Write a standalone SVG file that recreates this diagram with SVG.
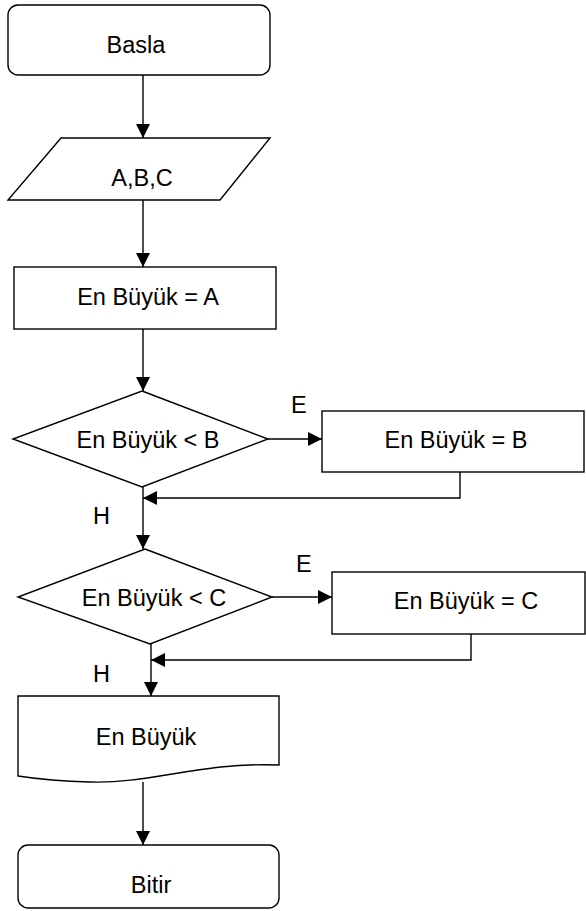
<svg xmlns="http://www.w3.org/2000/svg" width="586" height="911" viewBox="0 0 586 911">
<style>
.s{fill:#fff;stroke:#000;stroke-width:1.4}
.c{fill:none;stroke:#000;stroke-width:1.4}
text{font-family:"Liberation Sans",Arial,sans-serif;font-size:23.5px;fill:#000}
.m{text-anchor:middle}
</style>
<defs>
<marker id="a" markerUnits="userSpaceOnUse" markerWidth="15" markerHeight="15" refX="14" refY="7" orient="auto">
<path d="M0,0 L14,7 L0,14 z" fill="#000"/>
</marker>
</defs>
<rect width="586" height="911" fill="#fff"/>
<g id="connectors">
<path class="c" d="M143,75 V138" marker-end="url(#a)"/>
<path class="c" d="M143,200 V267" marker-end="url(#a)"/>
<path class="c" d="M143,329 V391" marker-end="url(#a)"/>
<path class="c" d="M268,439 H322" marker-end="url(#a)"/>
<path class="c" d="M460,472 V498 H143" marker-end="url(#a)"/>
<path class="c" d="M143,487 V549" marker-end="url(#a)"/>
<path class="c" d="M272,597 H332" marker-end="url(#a)"/>
<path class="c" d="M471,634 V660 H151" marker-end="url(#a)"/>
<path class="c" d="M151,644 V696" marker-end="url(#a)"/>
<path class="c" d="M143,782 V845" marker-end="url(#a)"/>
<text x="291" y="413">E</text>
<text x="93" y="524">H</text>
<text x="296" y="572">E</text>
<text x="93" y="682">H</text>
</g>
<g id="basla">
<rect class="s" x="8" y="5" width="262" height="70" rx="10"/>
<text class="m" x="136" y="53">Basla</text>
</g>
<g id="input">
<path class="s" d="M61,138 H270 L220,200 H8 Z"/>
<text class="m" x="142" y="186">A,B,C</text>
</g>
<g id="assignA">
<rect class="s" x="14" y="267" width="262" height="62"/>
<text class="m" x="148" y="305">En Büyük = A</text>
</g>
<g id="decisionB">
<path class="s" d="M142,391 L268,439 L142,487 L13,439 Z"/>
<text class="m" x="148" y="448">En Büyük &lt; B</text>
</g>
<g id="assignB">
<rect class="s" x="322" y="411" width="262" height="61"/>
<text class="m" x="456" y="448">En Büyük = B</text>
</g>
<g id="decisionC">
<path class="s" d="M145,549 L272,597 L150,644 L18,597 Z"/>
<text class="m" x="154" y="606">En Büyük &lt; C</text>
</g>
<g id="assignC">
<rect class="s" x="332" y="572" width="253" height="62"/>
<text class="m" x="466" y="609">En Büyük = C</text>
</g>
<g id="output">
<path class="s" d="M18,696 H279 V765 C200,762 150,784 90,782 Q50,781 18,776 Z"/>
<text class="m" x="146" y="745">En Büyük</text>
</g>
<g id="bitir">
<rect class="s" x="18" y="845" width="261" height="63" rx="10"/>
<text class="m" x="151" y="893">Bitir</text>
</g>
</svg>
